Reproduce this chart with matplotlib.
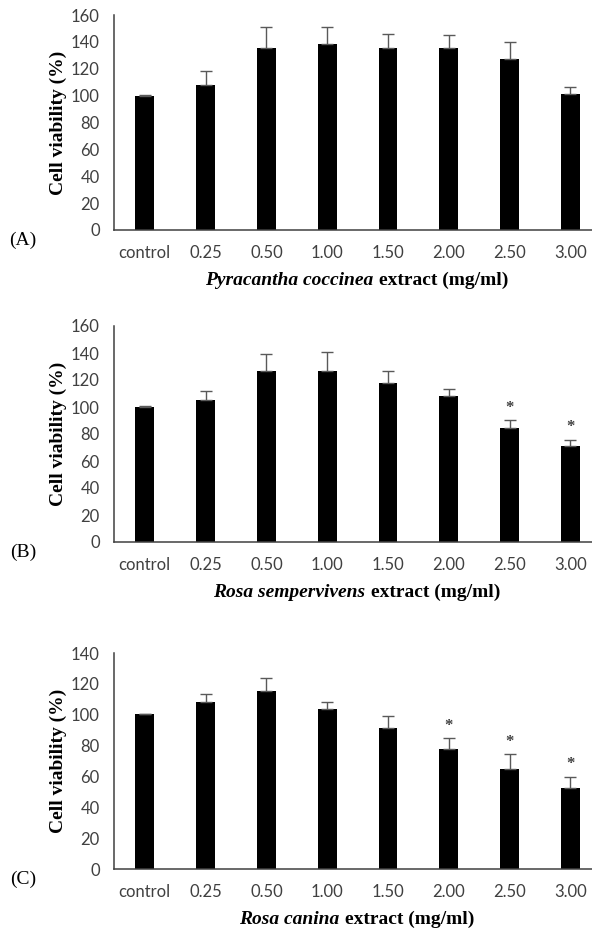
#!/usr/bin/env python
"""
Cell viability after treatment with three plant extracts (three bar panels).
"""

import numpy as np
import matplotlib
matplotlib.use('Agg')
import matplotlib.pyplot as plt
from matplotlib.offsetbox import TextArea, HPacker, AnchoredOffsetbox

categories = ['control', '0.25', '0.50', '1.00', '1.50', '2.00', '2.50', '3.00']

mean_a = [100, 108, 135.5, 138.5, 135.5, 135.5, 127.5, 101]
sd_a = [0.4, 10.5, 15.3, 12.3, 10.3, 9.3, 12.6, 5.7]
sig_a = []

mean_b = [100, 105.5, 127, 127, 117.5, 108.3, 84.8, 71.2]
sd_b = [0.4, 6.4, 12, 13.7, 9.4, 4.7, 5.5, 4.5]
sig_b = ['2.50', '3.00']

mean_c = [100.2, 108.2, 115.1, 103.9, 91.1, 78.1, 65.1, 52.2]
sd_c = [0.4, 5, 8.5, 4.1, 8.2, 6.7, 9.3, 7.5]
sig_c = ['2.00', '2.50', '3.00']

species = ['Pyracantha coccinea', 'Rosa sempervivens', 'Rosa canina']
letters = ['(A)', '(B)', '(C)']
ymax = [160, 160, 140]

W, H = 592, 932
# axes boxes in pixels: top, bottom
boxes = [(15, 230), (326, 542), (653, 869)]
left_px, width_px = 114.4, 486.4

grey = '#404040'
serif = 'Liberation Serif'

fig = plt.figure(figsize=(W / 100, H / 100), dpi=100)

panels = [(mean_a, sd_a, sig_a), (mean_b, sd_b, sig_b), (mean_c, sd_c, sig_c)]
for i, (mean, sd, sig) in enumerate(panels):
    top, bot = boxes[i]
    ax = fig.add_axes([left_px / W, 1 - bot / H, width_px / W, (bot - top) / H])
    x = np.arange(len(categories))
    ax.bar(x, mean, width=0.31, color='black', zorder=2)
    ax.errorbar(x, mean, yerr=[np.zeros(len(sd)), sd], fmt='none',
                ecolor='#595959', elinewidth=1.0, capsize=4, capthick=1.0, zorder=3)
    for s in sig:
        k = categories.index(s)
        ax.annotate('*', xy=(k, mean[k] + sd[k]), xytext=(0, 9),
                    textcoords='offset points', ha='center', va='center',
                    fontsize=12, fontweight='bold', family=serif, color=grey)
    ax.set_xlim(-0.5, 7.5)
    ax.set_ylim(0, ymax[i])
    ax.set_yticks(np.arange(0, ymax[i] + 1, 20))
    ax.set_xticks(x)
    ax.set_xticklabels(categories)
    for side in ['top', 'right']:
        ax.spines[side].set_visible(False)
    for side in ['left', 'bottom']:
        ax.spines[side].set_color(grey)
        ax.spines[side].set_linewidth(1.1)
    ax.tick_params(axis='x', length=0, pad=10.5, labelsize=12, labelcolor=grey)
    ax.tick_params(axis='y', length=0, pad=10.5, labelsize=12, labelcolor=grey)
    for lab in ax.get_xticklabels() + ax.get_yticklabels():
        lab.set_family('Lato')

    yc = 1 - (top + bot) / 2 / H
    fig.text(58 / W, yc, 'Cell viability (%)', rotation=90, ha='center', va='center',
             fontsize=14, fontweight='bold', family=serif)
    fig.text(23 / W, 1 - (bot + 10) / H, letters[i], ha='center', va='center',
             fontsize=14, family=serif)

    # x label: italic species name + regular text
    p1 = TextArea(species[i], textprops=dict(fontsize=14, fontweight='bold',
                                            fontstyle='italic', family=serif))
    p2 = TextArea('extract (mg/ml)', textprops=dict(fontsize=14, fontweight='bold',
                                                    family=serif))
    box = HPacker(children=[p1, p2], align='baseline', pad=0, sep=4)
    anch = AnchoredOffsetbox(loc='center', child=box, frameon=False, pad=0,
                             borderpad=0,
                             bbox_to_anchor=(357 / W, 1 - (bot + 50) / H),
                             bbox_transform=fig.transFigure)
    fig.add_artist(anch)

fig.savefig('out.png', dpi=100)
